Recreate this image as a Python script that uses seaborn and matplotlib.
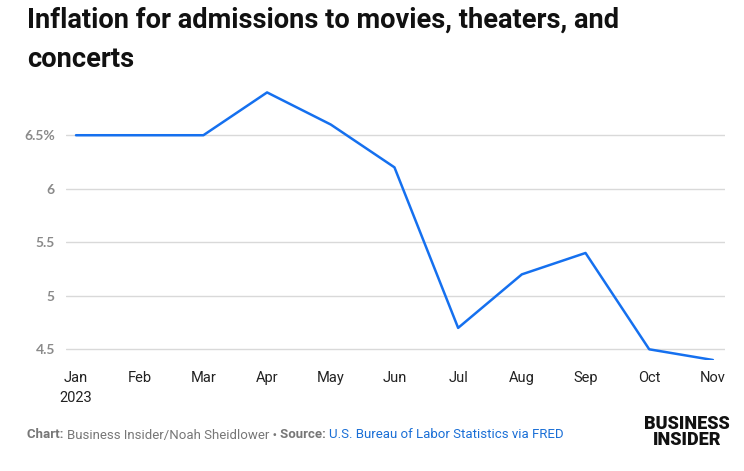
import matplotlib
matplotlib.use("Agg")
import matplotlib.pyplot as plt
import seaborn as sns
import pandas as pd

months = ["Jan", "Feb", "Mar", "Apr", "May", "Jun", "Jul", "Aug", "Sep", "Oct", "Nov"]
inflation = [6.5, 6.5, 6.5, 6.9, 6.6, 6.2, 4.7, 5.2, 5.4, 4.5, 4.4]
y_ticks = [4.5, 5, 5.5, 6, 6.5]
y_labels = ["4.5", "5", "5.5", "6", "6.5%"]

sns.set_theme(style="white")
plt.rcParams["font.family"] = ["Roboto", "DejaVu Sans"]

df = pd.DataFrame({"idx": range(len(months)), "val": inflation})

fig = plt.figure(figsize=(7.44, 4.71), dpi=100)
ax = fig.add_axes([66 / 744, (471 - 360) / 471, (725 - 66) / 744, (360 - 86) / 471])
sns.lineplot(data=df, x="idx", y="val", ax=ax, color="#1570EF", linewidth=1.8)

ax.set_xlim(-0.157, 10.19)
ax.set_ylim(4.4, 6.96)
ax.set_yticks(y_ticks)
ax.set_yticklabels(y_labels, color="#8a8a8a", fontsize=10, fontweight="bold", family=["Lato", "DejaVu Sans"])
ax.set_xticks(range(len(months)))
xl = [m if i else m + "\n2023" for i, m in enumerate(months)]
ax.set_xticklabels(xl, color="#222222", fontsize=10.5, linespacing=1.5, va="top")
ax.tick_params(axis="y", length=0, pad=8)
ax.tick_params(axis="x", length=0, pad=8)
ax.grid(axis="y", color="#d9d9d9", linewidth=1)
ax.grid(axis="x", visible=False)
for s in ax.spines.values():
    s.set_visible(False)
ax.set_xlabel("")
ax.set_ylabel("")

fig.text(27 / 744, 1 - 7 / 471, "Inflation for admissions to movies, theaters, and\nconcerts",
         fontsize=19.6, fontweight="bold", color="#111111", va="top", ha="left", linespacing=1.55)

# footer
fig.canvas.draw()
r = fig.canvas.get_renderer()
x = 27 / 744
yf = 1 - 435 / 471
parts = [("Chart: ", "bold", "#777777"), ("Business Insider/Noah Sheidlower \u2022 ", "normal", "#777777"),
         ("Source: ", "bold", "#777777"), ("U.S. Bureau of Labor Statistics via FRED", "normal", "#1a6fd6")]
for txt, w, c in parts:
    t = fig.text(x, yf, txt, fontsize=9.5, fontweight=w, color=c, va="center", ha="left")
    bb = t.get_window_extent(renderer=r)
    x += bb.width / fig.bbox.width

fig.text(730 / 744, 1 - 432 / 471, "BUSINESS\nINSIDER", fontsize=13, fontweight="black", color="#111111",
         ha="right", va="center", linespacing=0.8, multialignment="center")

fig.savefig("out.png", dpi=100)
